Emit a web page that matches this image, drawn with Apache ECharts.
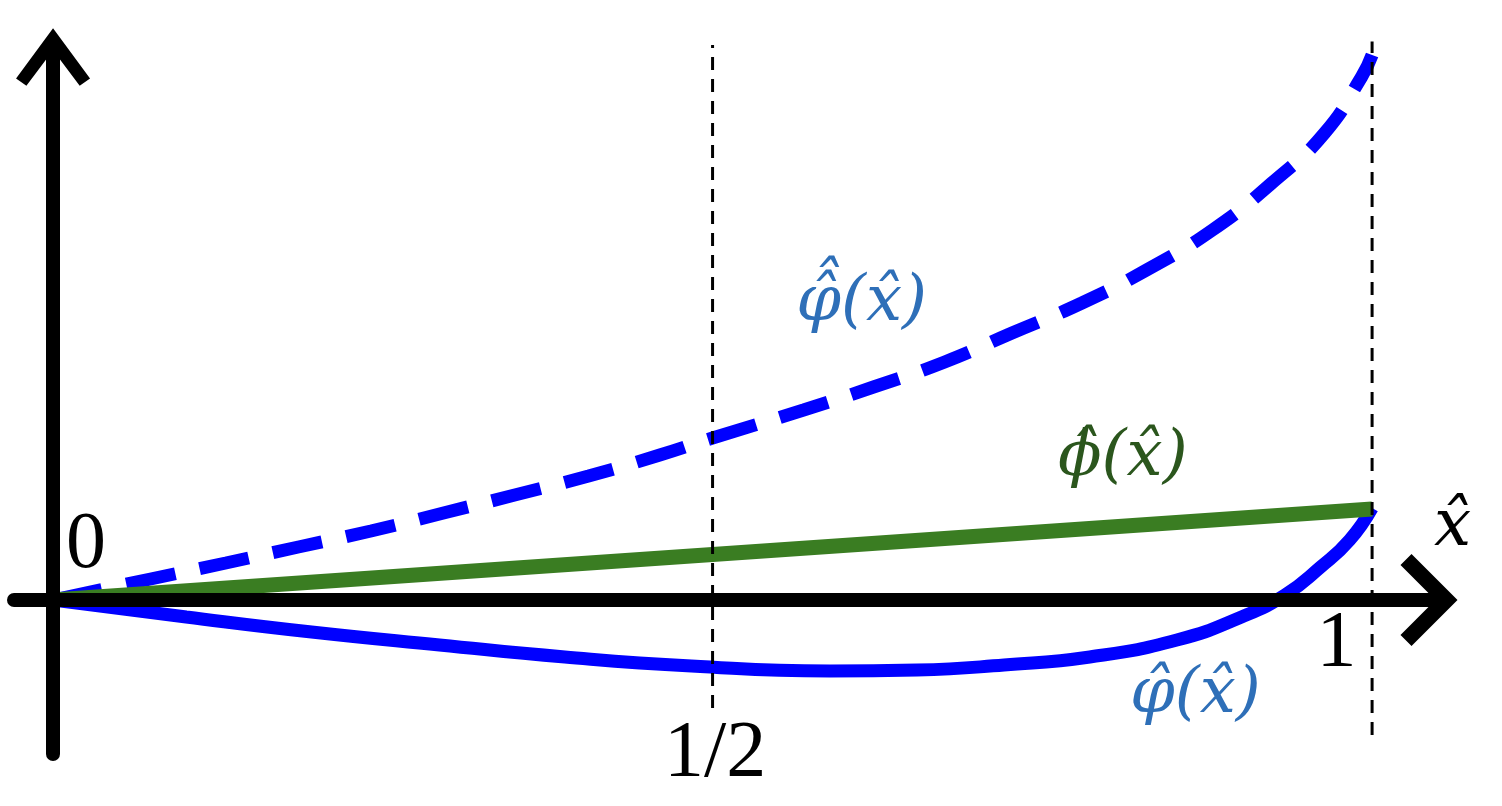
<!DOCTYPE html>
<html>
<head>
<meta charset="utf-8">
<title>phi curves</title>
<script src="https://cdn.jsdelivr.net/npm/echarts@6.0.0/dist/echarts.min.js"></script>
<style>
    html, body { margin: 0; padding: 0; background: #fff; }
    #main { width: 1502px; height: 806px; }
</style>
</head>
<body>
<div id="main"></div>
<script>
    // values (x in [0,1], y in axis units)
    var dualX = [0, 0.074, 0.131, 0.186, 0.241, 0.296, 0.350, 0.406, 0.460, 0.5, 0.569, 0.622, 0.676, 0.727, 0.780, 0.829, 0.879, 0.924, 0.964, 0.992, 1.0];
    var dualY = [0, 0.21, 0.37, 0.53, 0.69, 0.87, 1.05, 1.24, 1.45, 1.62, 1.90, 2.13, 2.38, 2.67, 2.97, 3.30, 3.70, 4.17, 4.67, 5.23, 5.45];

    var solidX = [0, 0.101, 0.196, 0.293, 0.388, 0.484, 0.589, 0.655, 0.721, 0.786, 0.852, 0.901, 0.934, 0.961, 0.983, 1.0];
    var solidY = [0, -0.17, -0.32, -0.45, -0.57, -0.66, -0.71, -0.70, -0.65, -0.57, -0.40, -0.17, 0.05, 0.33, 0.60, 0.92];

    var linearX = [0, 1];
    var linearY = [0, 0.91];

    // dashed guides at x = 1/2 and x = 1
    var guideX = [0.5, 1];
    var guideTop = [5.55, 5.62];
    var guideBottom = [-1.08, -1.35];

    var tickText = ['0', '1/2', '1'];
    var axisName = 'x\u0302';
    var curveNames = ['\u03c6\u0302\u0302(x\u0302)', '\u03d5\u0302(x\u0302)', '\u03c6\u0302(x\u0302)'];

    function pairs(xs, ys) {
        return xs.map(function (x, i) { return [x, ys[i]]; });
    }

    // where the texts sit, in data coordinates
    var tickPos = [[0.025, 0.54], [0.502, -1.55], [0.973, -0.45]];
    var namePos = [[0.613, 2.97], [0.811, 1.42], [0.866, -0.95]];
    var axisNamePos = [1.061, 0.72];

    var blueText = '#2e6fb8';
    var greenText = '#2b561d';
    var nameColors = [blueText, greenText, blueText];

    var labelData = [];
    tickText.forEach(function (t, i) {
        labelData.push({
            value: tickPos[i],
            label: { formatter: t, color: '#000', fontSize: 80, fontFamily: 'Liberation Serif' }
        });
    });
    curveNames.forEach(function (t, i) {
        labelData.push({
            value: namePos[i],
            label: { formatter: t, color: nameColors[i], fontSize: 64, fontStyle: 'italic', fontFamily: 'DejaVu Serif' }
        });
    });
    labelData.push({
        value: axisNamePos,
        label: { formatter: axisName, color: '#000', fontSize: 66, fontStyle: 'italic', fontFamily: 'DejaVu Serif' }
    });

    var guideSeries = guideX.map(function (gx, i) {
        return {
            type: 'line',
            symbol: 'none',
            z: 4,
            silent: true,
            data: [[gx, guideBottom[i]], [gx, guideTop[i]]],
            lineStyle: { color: '#000', width: 3, type: [13, 9] }
        };
    });

    var myChart = echarts.init(document.getElementById('main'));

    var option = {
        animation: false,
        backgroundColor: '#fff',
        grid: { left: 14, right: 60, top: 43, bottom: 52, outerBoundsMode: 'none' },
        xAxis: {
            type: 'value',
            min: -0.0296,
            max: 1.053,
            z: 10,
            splitLine: { show: false },
            axisTick: { show: false },
            axisLabel: { show: false },
            axisLine: {
                onZero: true,
                symbol: ['none', 'path://M50 0 L100 50 L88 62 L50 24 L12 62 L0 50 Z'],
                symbolSize: [92, 57],
                symbolOffset: [0, -13],
                lineStyle: { color: '#000', width: 14 }
            }
        },
        yAxis: {
            type: 'value',
            min: -1.54,
            max: 5.57,
            z: 10,
            splitLine: { show: false },
            axisTick: { show: false },
            axisLabel: { show: false },
            axisLine: {
                onZero: true,
                symbol: ['none', 'path://M50 0 L100 68 L86 78 L50 30 L14 78 L0 68 Z'],
                symbolSize: [74, 58],
                symbolOffset: [0, -14],
                lineStyle: { color: '#000', width: 14 }
            }
        },
        series: [
            {
                name: 'dual',
                type: 'line',
                smooth: true,
                symbol: 'none',
                z: 2,
                data: pairs(dualX, dualY),
                lineStyle: { color: '#0000ff', width: 13, type: [50, 25], cap: 'butt' }
            },
            {
                name: 'solid',
                type: 'line',
                smooth: true,
                symbol: 'none',
                z: 2,
                data: pairs(solidX, solidY),
                lineStyle: { color: '#0000ff', width: 13 }
            },
            {
                name: 'linear',
                type: 'line',
                symbol: 'none',
                z: 3,
                data: pairs(linearX, linearY),
                lineStyle: { color: '#3a7d22', width: 15 }
            }
        ].concat(guideSeries).concat([
            {
                type: 'scatter',
                symbolSize: 0,
                clip: false,
                silent: true,
                z: 12,
                itemStyle: { opacity: 1 },
                label: { show: true, position: 'inside', align: 'center', verticalAlign: 'middle', opacity: 1 },
                data: labelData
            }
        ])
    };
    myChart.setOption(option);
</script>
</body>
</html>
